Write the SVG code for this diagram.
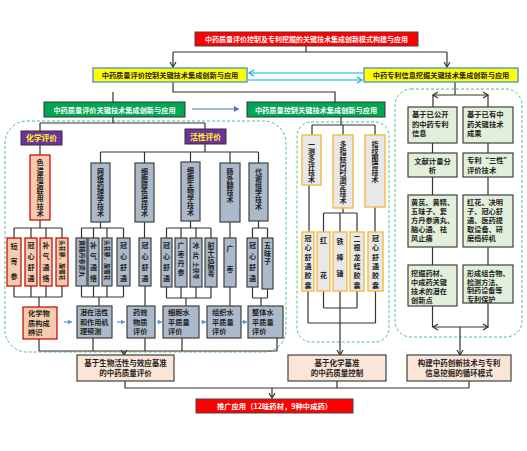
<svg xmlns="http://www.w3.org/2000/svg" width="527" height="451" viewBox="0 0 527 451">
<defs>
<style>
.t{font-family:"Noto Sans CJK SC","Noto Sans",sans-serif;font-weight:bold;fill:#222}
.w{fill:#fff}
.v{writing-mode:vertical-rl}
.ln{stroke:#333;stroke-width:1.2;fill:none}
.bl{stroke:#00b0f0;stroke-width:1.2;fill:none}
.bb{stroke:#4472c4;stroke-width:1;fill:none}
.dash{fill:none;stroke:#4fc38a;stroke-width:1;stroke-dasharray:3 2}
.red{fill:#ff0000;stroke:#444;stroke-width:1}
.yel{fill:#ffff00;stroke:#5b9bd5;stroke-width:1.5}
.grn{fill:#00a651;stroke:#333;stroke-width:1}
.pur{fill:#7030a0;stroke:#333;stroke-width:1}
.chem{fill:#f8cbad;stroke:#c00000;stroke-width:1.2}
.gry{fill:#acb9ca;stroke:#404040;stroke-width:1.2}
.mid{fill:#e8e8e8;stroke:#f2c14e;stroke-width:1.5}
.rgt{fill:#e2efda;stroke:#404040;stroke-width:1.2}
.pch{fill:#fbe5d6;stroke:#404040;stroke-width:1.2}
</style>
<marker id="oa" markerWidth="8" markerHeight="8" refX="6" refY="4" orient="auto-start-reverse" markerUnits="userSpaceOnUse"><path d="M1,1 L6,4 L1,7" fill="none" stroke="#333" stroke-width="1.2"/></marker>
<marker id="ob" markerWidth="8" markerHeight="8" refX="6" refY="4" orient="auto" markerUnits="userSpaceOnUse"><path d="M1,1 L6,4 L1,7" fill="none" stroke="#00b0f0" stroke-width="1.2"/></marker>
<marker id="fb" markerWidth="6" markerHeight="6" refX="5" refY="3" orient="auto" markerUnits="userSpaceOnUse"><path d="M0,0 L5,3 L0,6 Z" fill="#4472c4"/></marker>
<marker id="fs" markerWidth="5" markerHeight="5" refX="4" refY="2.5" orient="auto" markerUnits="userSpaceOnUse"><path d="M0,0 L4,2.5 L0,5 Z" fill="#5b9bd5"/></marker>
</defs>
<rect width="527" height="451" fill="#fff"/>

<!-- dashed regions -->
<rect class="dash" x="5" y="121" width="281" height="231" rx="22"/>
<rect class="dash" x="297" y="122" width="92" height="220" rx="14"/>
<rect class="dash" x="395" y="89" width="127" height="248" rx="16"/>

<g id="connectors">
<path class="ln" d="M306,46 V52 M173,52 H447"/>
<path class="ln" d="M173,52 V67" marker-end="url(#oa)"/>
<path class="ln" d="M447,52 V67" marker-end="url(#oa)"/>
<path class="bl" d="M363,73 H249" marker-end="url(#ob)"/>
<path class="bl" d="M248,80 H362" marker-end="url(#ob)"/>
<path class="ln" d="M173,82 V92 H335 V102 M113,92 V102"/>
<path class="bb" d="M192,109 H239" marker-end="url(#fb)"/>
<path class="ln" d="M455,82 V95"/>
<path class="ln" d="M433,95 H488" marker-start="url(#oa)" marker-end="url(#oa)"/>
<path class="ln" d="M433,95 V107 M488,95 V107"/>
<path class="ln" d="M432.5,143 V153 M432.5,177 V195 M432.5,247 V265 M488,143 V153 M488,177 V195 M488,247 V265"/>
<path class="ln" d="M432.5,306 V327 M488,303 V327"/>
<path class="ln" d="M433,327 H488" marker-start="url(#oa)" marker-end="url(#oa)"/>
<path class="ln" d="M460,327 V355" marker-end="url(#oa)"/>
<path class="ln" d="M113,117 V123 M40,123 H205 M40,123 V131 M205,123 V129"/>
<path class="ln" d="M40,145 V155"/>
<path class="ln" d="M205,144 V152 M100.5,152 H258.5 M100.5,152 V163 M144.5,152 V163 M190.5,152 V163 M230,152 V163 M258.5,152 V163"/>
<path class="ln" d="M40,220 V228 M14,228 H62 M14,228 V238 M31,228 V238 M46,228 V238 M62,228 V238"/>
<path class="ln" d="M100.5,222 V228 M81.5,228 H123.5 M81.5,228 V238 M93.5,228 V238 M107,228 V238 M123.5,228 V238"/>
<path class="ln" d="M144.5,222 V238"/>
<path class="ln" d="M190.5,221 V228 M166.5,228 H211 M166.5,228 V238 M181,228 V238 M196,228 V238 M211,228 V238"/>
<path class="ln" d="M230,222 V238"/>
<path class="ln" d="M258.5,221 V228 M252.5,228 H267.5 M252.5,228 V238 M267.5,228 V238"/>
<path class="ln" d="M14,286 V297 M31,286 V297 M46,286 V297 M62,286 V297 M14,297 H62 M39,297 V307"/>
<path class="ln" d="M81.5,286 V297 M93.5,286 V297 M107,286 V297 M123.5,286 V297 M81.5,297 H123.5 M99,297 V306"/>
<path class="ln" d="M145,286 V306"/>
<path class="ln" d="M166.5,287 V298 M181,287 V298 M196,287 V298 M211,287 V298 M166.5,298 H211 M186,298 V306"/>
<path class="ln" d="M230,287 V306"/>
<path class="ln" d="M252.5,287 V298 M267.5,287 V298 M252.5,298 H267.5 M261,298 V306"/>
<path class="ln" d="M39,339 V351 M93,338 V351 M145,338 V351 M182,338 V351 M277,338 V351 M39,351 H277"/>
<path class="ln" d="M124,351 V355" marker-end="url(#oa)"/>
<path class="bb" d="M64,322 H72" marker-end="url(#fs)"/>
<path class="bb" d="M117,322 H125" marker-end="url(#fs)"/>
<path class="bb" d="M157,322 H162" marker-end="url(#fs)"/>
<path class="bb" d="M201,322 H206" marker-end="url(#fs)"/>
<path class="bb" d="M242,322 H247" marker-end="url(#fs)"/>
<path class="ln" d="M341,117 V125 M312,125 H375 M312,125 V135 M343,125 V135 M375,125 V135"/>
<path class="ln" d="M309,185 V232 M375,207 V232"/>
<path class="ln" d="M343,208 V213 M323.5,213 H357 M323.5,213 V232 M340,213 V232 M357,213 V232"/>
<path class="ln" d="M308,291 V323 M375.5,291 V323 M308,323 H375.5 M323.5,291 V308 M357,291 V308 M323.5,308 H357"/>
<path class="ln" d="M340,291 V355" marker-end="url(#oa)"/>
<path class="ln" d="M125,381 V388 H469 M337,381 V388 M469,381 V388"/>
<path class="ln" d="M272,388 V398" marker-end="url(#oa)"/>
</g>

<g id="top"><rect class="red" x="195" y="32" width="223" height="14"/><text class="t w" x="306.5" y="42" font-size="7" text-anchor="middle">中药质量评价控制及专利挖掘的关键技术集成创新模式构建与应用</text></g>
<g id="yl"><rect class="yel" x="93" y="68" width="154" height="14"/><text class="t" x="170" y="78" font-size="7.2" text-anchor="middle">中药质量评价控制关键技术集成创新与应用</text></g>
<g id="yr"><rect class="yel" x="364" y="68" width="154" height="14"/><text class="t" x="441" y="78" font-size="7.2" text-anchor="middle">中药专利信息挖掘关键技术集成创新与应用</text></g>
<g id="gl"><rect class="grn" x="44" y="102" width="141" height="15"/><text class="t w" x="114.5" y="112.5" font-size="7.2" text-anchor="middle">中药质量评价关键技术集成创新与应用</text></g>
<g id="gr"><rect class="grn" x="247" y="102" width="138" height="15"/><text class="t w" x="316" y="112.5" font-size="7.2" text-anchor="middle">中药质量控制关键技术集成创新与应用</text></g>

<g id="p1"><rect class="pur" x="21" y="131" width="41" height="14"/><text class="t" x="41.5" y="141" font-size="7.8" text-anchor="middle" style="fill:#ffff00">化学评价</text></g>
<g id="p2"><rect class="pur" x="185" y="129" width="41" height="15"/><text class="t" x="205.5" y="139.5" font-size="7.8" text-anchor="middle" style="fill:#ffff00">活性评价</text></g>

<g id="sp"><rect class="chem" x="30" y="155" width="20" height="65"/><text class="t v" x="40" y="159" font-size="7.2">色谱质谱联用技术</text></g>
<g id="g1"><rect class="gry" x="91" y="163" width="19" height="59"/><text class="t v" x="100.5" y="168" font-size="7">网络药理学技术</text></g>
<g id="g2"><rect class="gry" x="135" y="163" width="19" height="59"/><text class="t v" x="144.5" y="168" font-size="7">细胞膜色谱技术</text></g>
<g id="g3"><rect class="gry" x="181" y="162" width="19" height="59"/><text class="t v" x="190.5" y="167" font-size="7">细胞生物学技术</text></g>
<g id="g4"><rect class="gry" x="220" y="163" width="20" height="59"/><text class="t v" x="230" y="168" font-size="7">肠外翻技术</text></g>
<g id="g5"><rect class="gry" x="249" y="163" width="19" height="58"/><text class="t v" x="258.5" y="168" font-size="7">代谢组学技术</text></g>

<g id="c1"><rect class="chem" x="7" y="238" width="14" height="48"/><text class="t v" x="14" y="243" font-size="7" letter-spacing="8">短寄参</text></g>
<g id="c2"><rect class="chem" x="25" y="238" width="12" height="48"/><text class="t v" x="31" y="242" font-size="7" letter-spacing="4">冠心舒通</text></g>
<g id="c3"><rect class="chem" x="40" y="238" width="12" height="48"/><text class="t v" x="46" y="242" font-size="7" letter-spacing="4">补气通络</text></g>
<g id="c4"><rect class="chem" x="56" y="238" width="12" height="48"/><text class="t" transform="translate(60,240) rotate(90)" font-size="5.8">头花蓼、旋覆花</text></g>
<g id="l1"><rect class="gry" x="76" y="238" width="11" height="48"/><text class="t" transform="translate(79.5,240) rotate(90)" font-size="6.2">黄精丹参滴丸</text></g>
<g id="l2"><rect class="gry" x="88" y="238" width="11" height="48"/><text class="t v" x="93.5" y="242" font-size="7" letter-spacing="4">补气通络</text></g>
<g id="l3"><rect class="gry" x="102" y="238" width="10" height="48"/><text class="t" transform="translate(105,240) rotate(90)" font-size="5.8">头花蓼、旋覆花</text></g>
<g id="l4"><rect class="gry" x="117" y="238" width="13" height="48"/><text class="t v" x="123.5" y="242" font-size="7" letter-spacing="4">冠心舒通</text></g>
<g id="l5"><rect class="gry" x="139" y="238" width="12" height="48"/><text class="t v" x="145" y="242" font-size="7" letter-spacing="4">冠心舒通</text></g>
<g id="l6"><rect class="gry" x="161" y="238" width="11" height="49"/><text class="t v" x="166.5" y="242" font-size="7" letter-spacing="4">冠心舒通</text></g>
<g id="l7"><rect class="gry" x="175" y="238" width="12" height="49"/><text class="t v" x="181" y="242" font-size="7" letter-spacing="2">广枣丹参</text></g>
<g id="l8"><rect class="gry" x="190" y="238" width="12" height="49"/><text class="t v" x="196" y="242" font-size="7" letter-spacing="3">冰片</text><text class="t" transform="translate(193.5,262) rotate(90)" font-size="5.8">土茯苓</text></g>
<g id="l9"><rect class="gry" x="205" y="238" width="12" height="49"/><text class="t v" x="211" y="242" font-size="7">射干抗病毒</text></g>
<g id="l10"><rect class="gry" x="224" y="238" width="12" height="49"/><text class="t v" x="230" y="245" font-size="7" letter-spacing="14">广枣</text></g>
<g id="l11"><rect class="gry" x="247" y="238" width="11" height="49"/><text class="t v" x="252.5" y="242" font-size="7" letter-spacing="4">冠心舒通</text></g>
<g id="l12"><rect class="gry" x="262" y="238" width="11" height="51"/><text class="t v" x="267.5" y="242" font-size="7" letter-spacing="1">五味子</text></g>

<g id="r1"><rect class="chem" x="23" y="307" width="34" height="32"/><text class="t" font-size="7.2"><tspan x="28" y="316">化学物</tspan><tspan x="28" y="325.5">质构成</tspan><tspan x="28" y="335">辨识</tspan></text></g>
<g id="r2"><rect class="gry" x="77" y="306" width="35" height="32"/><text class="t" font-size="7.1"><tspan x="80" y="315">潜在活性</tspan><tspan x="80" y="324.5">和作用机</tspan><tspan x="80" y="334">理预测</tspan></text></g>
<g id="r3"><rect class="gry" x="127" y="306" width="28" height="32"/><text class="t" font-size="7.2"><tspan x="133" y="315">药效</tspan><tspan x="133" y="324.5">物质</tspan><tspan x="133" y="334">评价</tspan></text></g>
<g id="r4"><rect class="gry" x="163" y="306" width="36" height="32"/><text class="t" font-size="7.2"><tspan x="168" y="315">细胞水</tspan><tspan x="168" y="324.5">平质量</tspan><tspan x="168" y="334">评价</tspan></text></g>
<g id="r5"><rect class="gry" x="207" y="306" width="34" height="32"/><text class="t" font-size="7.2"><tspan x="212" y="315">组织水</tspan><tspan x="212" y="324.5">平质量</tspan><tspan x="212" y="334">评价</tspan></text></g>
<g id="r6"><rect class="gry" x="248" y="306" width="35" height="32"/><text class="t" font-size="7.2"><tspan x="252" y="315">整体水</tspan><tspan x="252" y="324.5">平质量</tspan><tspan x="252" y="334">评价</tspan></text></g>

<g id="m1"><rect class="mid" x="302" y="135" width="19" height="50"/><text class="t v" x="311.5" y="141" font-size="7">一测多评技术</text></g>
<g id="m2"><rect class="mid" x="333" y="135" width="20" height="73"/><text class="t v" x="343" y="141" font-size="7">多指标同时测定技术</text></g>
<g id="m3"><rect class="mid" x="365" y="135" width="20" height="72"/><text class="t v" x="375" y="141" font-size="7">指纹图谱技术</text></g>
<g id="n1"><rect class="mid" x="302" y="232" width="12" height="59"/><text class="t v" x="308" y="235" font-size="7" letter-spacing="2.3">冠心舒通胶囊</text></g>
<g id="n2"><rect class="mid" x="317" y="232" width="13" height="59"/><text class="t v" x="323.5" y="237" font-size="7" letter-spacing="28">红花</text></g>
<g id="n3"><rect class="mid" x="333" y="232" width="14" height="59"/><text class="t v" x="340" y="238" font-size="7" letter-spacing="9">铁棒锤</text></g>
<g id="n4"><rect class="mid" x="350" y="232" width="14" height="59"/><text class="t v" x="357" y="235" font-size="7" letter-spacing="2.3">二根龙蛭胶囊</text></g>
<g id="n5"><rect class="mid" x="368" y="232" width="15" height="59"/><text class="t v" x="375.5" y="235" font-size="7" letter-spacing="2.3">冠心舒通胶囊</text></g>

<g id="q1"><rect class="rgt" x="408" y="107" width="49" height="36"/><text class="t" font-size="7.3"><tspan x="412" y="117">基于已公开</tspan><tspan x="412" y="126.5">的中药专利</tspan><tspan x="412" y="136">信息</tspan></text></g>
<g id="q2"><rect class="rgt" x="463" y="107" width="50" height="36"/><text class="t" font-size="7.3"><tspan x="467" y="117">基于已有中</tspan><tspan x="467" y="126.5">药关键技术</tspan><tspan x="467" y="136">成果</tspan></text></g>
<g id="q3"><rect class="rgt" x="408" y="153" width="49" height="24"/><text class="t" font-size="7.3" text-anchor="middle"><tspan x="432.5" y="163.5">文献计量分</tspan><tspan x="432.5" y="173">析</tspan></text></g>
<g id="q4"><rect class="rgt" x="463" y="153" width="50" height="24"/><text class="t" font-size="7.3"><tspan x="467" y="163">专利“三性”</tspan><tspan x="467" y="172.5">评价技术</tspan></text></g>
<g id="q5"><rect class="rgt" x="408" y="195" width="49" height="52"/><text class="t" font-size="7.2"><tspan x="411" y="205">黄芪、黄精、</tspan><tspan x="411" y="214">五味子、复</tspan><tspan x="411" y="223">方丹参滴丸、</tspan><tspan x="411" y="232">脑心通、祛</tspan><tspan x="411" y="241">风止痛</tspan></text></g>
<g id="q6"><rect class="rgt" x="463" y="195" width="50" height="52"/><text class="t" font-size="7.2"><tspan x="467" y="205">红花、决明</tspan><tspan x="467" y="214">子、冠心舒</tspan><tspan x="467" y="223">通、医药提</tspan><tspan x="467" y="232">取设备、研</tspan><tspan x="467" y="241">磨捣碎机</tspan></text></g>
<g id="q7"><rect class="rgt" x="408" y="265" width="49" height="41"/><text class="t" font-size="7.2"><tspan x="411" y="276">挖掘药材、</tspan><tspan x="411" y="285">中成药关键</tspan><tspan x="411" y="294">技术的潜在</tspan><tspan x="411" y="302.5">创新点</tspan></text></g>
<g id="q8"><rect class="rgt" x="463" y="265" width="50" height="38"/><text class="t" font-size="7.1"><tspan x="467" y="276">形成组合物、</tspan><tspan x="467" y="284.5">检测方法、</tspan><tspan x="467" y="293">制药设备等</tspan><tspan x="467" y="301.5">专利保护</tspan></text></g>

<g id="b1"><rect class="pch" x="77" y="355" width="97" height="26"/><text class="t" font-size="7.5" text-anchor="middle"><tspan x="125.5" y="366">基于生物活性与效应基准</tspan><tspan x="125.5" y="376">的中药质量评价</tspan></text></g>
<g id="b2"><rect class="pch" x="288" y="355" width="98" height="26"/><text class="t" font-size="7.5" text-anchor="middle"><tspan x="337" y="366">基于化学基准</tspan><tspan x="337" y="376">的中药质量控制</tspan></text></g>
<g id="b3"><rect class="pch" x="407" y="355" width="104" height="26"/><text class="t" font-size="7.5" text-anchor="middle"><tspan x="459" y="366">构建中药创新技术与专利</tspan><tspan x="459" y="376">信息挖掘的循环模式</tspan></text></g>
<g id="fin"><rect class="red" x="196" y="399" width="157" height="14"/><text class="t w" x="274.5" y="409" font-size="7.3" text-anchor="middle">推广应用（12味药材，9种中成药）</text></g>
</svg>
